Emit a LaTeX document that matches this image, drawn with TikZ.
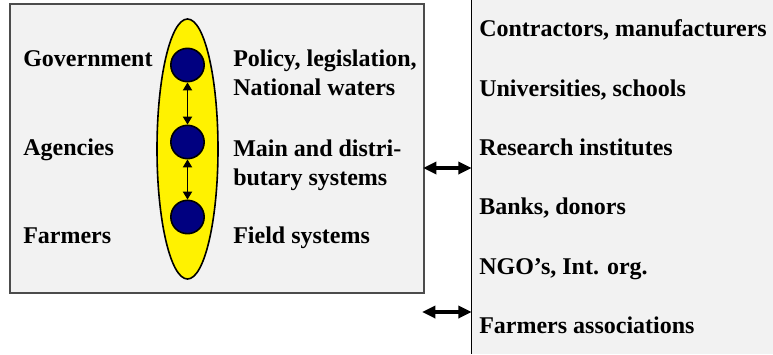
\documentclass[tikz,border=0pt]{standalone}
\usepackage{fontspec}
\setmainfont{Liberation Serif}
\usetikzlibrary{shapes.geometric,arrows.meta}
\definecolor{panelgray}{HTML}{F2F2F2}
\definecolor{dotblue}{HTML}{000080}
\tikzset{
  panel/.style={fill=panelgray, inner sep=0pt},
  lbl/.style={font=\fontsize{18}{21.75}\selectfont\bfseries, anchor=base west,
    inner sep=0pt, align=left},
  level/.style={circle, fill=dotblue, draw=black, line width=1.2pt,
    minimum size=25pt, inner sep=0pt},
  updown/.style={{Triangle[length=6pt,width=7pt]}-{Triangle[length=6pt,width=7pt]}, line width=0.9pt},
  link/.style={{Triangle[length=10pt,width=9pt]}-{Triangle[length=10pt,width=9pt]}, line width=2.6pt}
}
\begin{document}
\begin{tikzpicture}[x=0.75pt, y=-0.75pt]
\useasboundingbox (0,0) rectangle (773,354);
% the two panels
\node[panel, draw=black!70, line width=1.1pt, minimum width=310.5pt, minimum height=216.75pt] (left) at (217,148.5) {};
\node[panel, minimum width=225.75pt, minimum height=265.5pt] (right) at (622.5,177) {};
\draw[line width=0.8pt] (right.north west) -- (right.south west);
% the chain of levels
\node[ellipse, fill=yellow, draw=black, line width=1.2pt, minimum width=45.75pt, minimum height=195pt, inner sep=0pt] (chain) at (187.5,149) {};
\node[level] (gov) at (187.5,65) {};
\node[level] (agc) at (187.5,142) {};
\node[level] (frm) at (187.5,217) {};
\draw[updown] (gov) -- (agc);
\draw[updown] (agc) -- (frm);
% left labels
\node[lbl] (tgov) at (23,66) {Government};
\node[lbl] (tagc) at (23,155) {Agencies};
\node[lbl] (tfrm) at (23,243) {Farmers};
\node[lbl] (pol) at (233,95) {Policy, legislation,\\National waters};
\node[lbl] (sys) at (233,185) {Main and distri-\\butary systems};
\node[lbl] (fld) at (233,243) {Field systems};
% outside actors
\node[lbl] (con) at (479,36) {Contractors, manufacturers};
\node[lbl] (uni) at (479,96) {Universities, schools};
\node[lbl] (res) at (479,155) {Research institutes};
\node[lbl] (ban) at (479,214) {Banks, donors};
\node[lbl] (ngo) at (479,274) {NGO’s, Int. org.};
\node[lbl] (fas) at (479,333) {Farmers associations};
% exchanges
\coordinate (j1) at (423,168);
\coordinate (j2) at (422,312);
\draw[link] (j1) -- (j1 -| right.west);
\draw[link] (j2) -- (j2 -| right.west);
\end{tikzpicture}
\end{document}
